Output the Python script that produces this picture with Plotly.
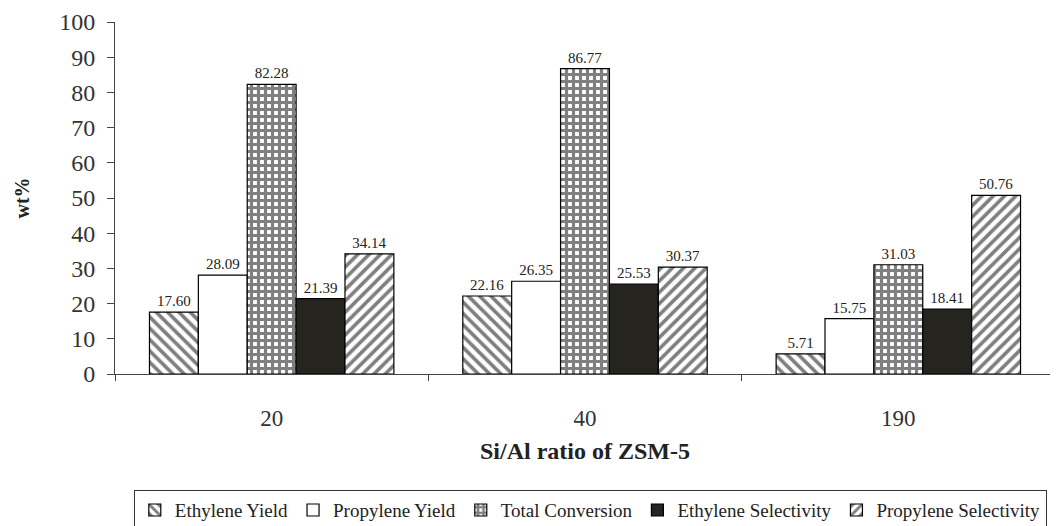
import plotly.graph_objects as go

# Si/Al ratio categories
ratios = ["20", "40", "190"]

ethylene_yield = [17.60, 22.16, 5.71]
propylene_yield = [28.09, 26.35, 15.75]
total_conversion = [82.28, 86.77, 31.03]
ethylene_selectivity = [21.39, 25.53, 18.41]
propylene_selectivity = [34.14, 30.37, 50.76]

series_names = ["Ethylene Yield", "Propylene Yield", "Total Conversion",
                "Ethylene Selectivity", "Propylene Selectivity"]

SERIF = "Liberation Serif, Times New Roman, serif"

# (values, fill colour, pattern)
styles = [
    (ethylene_yield, "white", dict(shape="\\", fgcolor="black", bgcolor="white", size=8, solidity=0.45)),
    (propylene_yield, "white", dict(shape="")),
    (total_conversion, "white", dict(shape="+", fgcolor="black", bgcolor="white", size=7, solidity=0.7)),
    (ethylene_selectivity, "#26241f", dict(shape="")),
    (propylene_selectivity, "white", dict(shape="/", fgcolor="black", bgcolor="white", size=8, solidity=0.45)),
]

fig = go.Figure()

for name, (vals, color, pattern) in zip(series_names, styles):
    fig.add_trace(go.Bar(
        x=ratios,
        y=vals,
        name=name,
        marker=dict(color=color, pattern=pattern,
                    line=dict(color="black", width=1.2)),
        text=[f"{v:.2f}" for v in vals],
        textposition="outside",
        textfont=dict(family=SERIF, size=15, color="#222"),
        cliponaxis=False,
    ))

# the page body adds an 8px margin, so the figure is sized to fit inside it
fig.update_layout(
    barmode="group",
    bargap=0.22,
    bargroupgap=0,
    width=1050,
    height=518,
    plot_bgcolor="white",
    paper_bgcolor="white",
    margin=dict(l=107, r=3, t=14, b=152, autoexpand=False),
    font=dict(family=SERIF, color="#333"),
    xaxis=dict(
        title=dict(text="<b>Si/Al ratio of ZSM-5</b>", font=dict(size=24, color="#222"), standoff=12),
        tickfont=dict(size=23, color="#333"),
        ticklabelstandoff=23,
        showline=True, linecolor="#444", linewidth=1,
        ticks="outside", ticklen=6, tickcolor="#444",
        tickson="boundaries",
        showgrid=False,
        automargin=False,
    ),
    yaxis=dict(
        title=dict(text="<b>wt%</b>", font=dict(size=20, color="#222"), standoff=24),
        range=[0, 100],
        dtick=10,
        tickfont=dict(size=24, color="#333"),
        ticklabelstandoff=7,
        showline=True, linecolor="#444", linewidth=1,
        ticks="outside", ticklen=7, tickcolor="#444",
        showgrid=False, zeroline=False,
        automargin=False,
    ),
    legend=dict(
        orientation="h",
        x=0.02, xanchor="left",
        y=-0.33, yanchor="top",
        bordercolor="#333", borderwidth=1,
        font=dict(family=SERIF, size=19, color="#222"),
        itemwidth=30,
        traceorder="normal",
    ),
    showlegend=True,
)

fig.write_html("out.html")
